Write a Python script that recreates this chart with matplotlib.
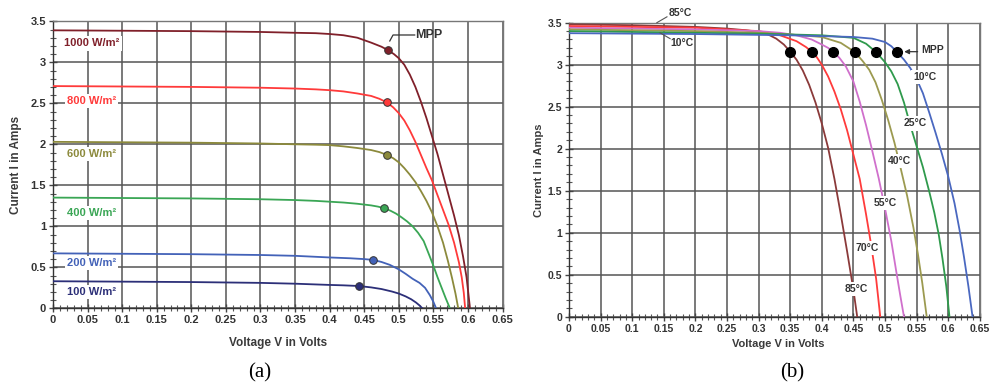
import matplotlib.pyplot as plt
from matplotlib.ticker import MultipleLocator, FuncFormatter

# ---- (a) I-V curves for different irradiance levels ----
irr_labels = ['1000 W/m²', '800 W/m²', '600 W/m²', '400 W/m²', '200 W/m²', '100 W/m²']
irr_colors = ['#80202a', '#ff3a3a', '#8c8a3c', '#3aa655', '#4362b8', '#2c2f78']

v_1000 = [0, 0.1, 0.2, 0.3, 0.35, 0.38, 0.4, 0.42, 0.44, 0.46, 0.475, 0.484, 0.493, 0.5, 0.508, 0.516,
          0.524, 0.532, 0.54, 0.548, 0.556, 0.564, 0.572, 0.58, 0.587, 0.593, 0.598, 0.603]
i_1000 = [3.39, 3.385, 3.38, 3.37, 3.36, 3.355, 3.345, 3.33, 3.30, 3.24, 3.19, 3.15, 3.10, 3.05, 2.97, 2.85,
          2.70, 2.52, 2.32, 2.10, 1.88, 1.63, 1.38, 1.13, 0.89, 0.63, 0.38, 0.0]
v_800 = [0, 0.1, 0.2, 0.3, 0.35, 0.38, 0.4, 0.42, 0.44, 0.46, 0.472, 0.483, 0.492, 0.5, 0.508, 0.516,
         0.524, 0.532, 0.54, 0.548, 0.556, 0.564, 0.572, 0.58, 0.587, 0.591, 0.594, 0.596]
i_800 = [2.71, 2.705, 2.70, 2.69, 2.68, 2.67, 2.66, 2.645, 2.62, 2.59, 2.555, 2.51, 2.45, 2.38, 2.29, 2.17,
         2.03, 1.87, 1.71, 1.56, 1.38, 1.20, 1.02, 0.80, 0.56, 0.38, 0.19, 0.0]
v_600 = [0, 0.1, 0.2, 0.3, 0.35, 0.38, 0.4, 0.42, 0.44, 0.46, 0.472, 0.483, 0.492, 0.5, 0.508, 0.516,
         0.524, 0.532, 0.54, 0.548, 0.556, 0.564, 0.571, 0.577, 0.582, 0.586]
i_600 = [2.03, 2.025, 2.02, 2.01, 2.0, 1.995, 1.99, 1.975, 1.955, 1.93, 1.905, 1.87, 1.83, 1.78, 1.71, 1.63,
         1.54, 1.43, 1.31, 1.17, 1.00, 0.80, 0.58, 0.37, 0.18, 0.0]
v_400 = [0, 0.1, 0.2, 0.3, 0.35, 0.38, 0.4, 0.42, 0.44, 0.46, 0.47, 0.479, 0.488, 0.496, 0.504, 0.512,
         0.52, 0.528, 0.536, 0.544, 0.55, 0.556, 0.562, 0.568, 0.574]
i_400 = [1.35, 1.345, 1.34, 1.33, 1.32, 1.31, 1.30, 1.29, 1.275, 1.255, 1.24, 1.22, 1.19, 1.155, 1.11, 1.06,
         1.00, 0.92, 0.82, 0.65, 0.52, 0.38, 0.25, 0.12, 0.0]
v_200 = [0, 0.1, 0.2, 0.3, 0.35, 0.4, 0.43, 0.45, 0.463, 0.475, 0.487, 0.5, 0.51, 0.52, 0.53, 0.538,
         0.545, 0.55, 0.554]
i_200 = [0.67, 0.665, 0.66, 0.65, 0.64, 0.62, 0.61, 0.60, 0.59, 0.565, 0.53, 0.475, 0.42, 0.36, 0.31, 0.25,
         0.16, 0.08, 0.0]
v_100 = [0, 0.1, 0.2, 0.3, 0.35, 0.4, 0.42, 0.442, 0.46, 0.475, 0.49, 0.5, 0.51, 0.518, 0.525, 0.53, 0.534]
i_100 = [0.33, 0.325, 0.32, 0.31, 0.30, 0.285, 0.28, 0.272, 0.255, 0.235, 0.205, 0.18, 0.145, 0.11, 0.07,
         0.035, 0.0]

mpp_v_a = [0.484, 0.483, 0.483, 0.479, 0.463, 0.442]
mpp_i_a = [3.15, 2.51, 1.87, 1.22, 0.59, 0.272]
lab_i_a = [3.23, 2.53, 1.88, 1.166, 0.549, 0.202]

# ---- (b) I-V curves for different temperatures ----
temp_labels = ['85°C', '70°C', '55°C', '40°C', '25°C', '10°C']
temp_colors = ['#8b3a3a', '#ff3b3b', '#d070cc', '#9c9a50', '#2f9a4c', '#4a68c0']

v_85 = [0, 0.1, 0.2, 0.25, 0.28, 0.3, 0.315, 0.328, 0.34, 0.35, 0.36, 0.37, 0.38, 0.39, 0.40, 0.41,
        0.42, 0.43, 0.44, 0.45, 0.456]
i_85 = [3.48, 3.47, 3.45, 3.43, 3.41, 3.39, 3.36, 3.31, 3.24, 3.155, 3.06, 2.93, 2.76, 2.55, 2.30, 2.01,
        1.64, 1.22, 0.78, 0.32, 0.0]
v_70 = [0, 0.1, 0.2, 0.25, 0.3, 0.334, 0.36, 0.375, 0.384, 0.392, 0.40, 0.41, 0.42, 0.43, 0.44, 0.45,
        0.46, 0.47, 0.478, 0.486, 0.4925]
i_70 = [3.46, 3.45, 3.44, 3.42, 3.40, 3.35, 3.28, 3.21, 3.155, 3.09, 3.0, 2.86, 2.68, 2.47, 2.22, 1.93,
        1.64, 1.22, 0.86, 0.45, 0.0]
v_55 = [0, 0.1, 0.2, 0.25, 0.3, 0.334, 0.36, 0.384, 0.40, 0.41, 0.418, 0.428, 0.438, 0.45, 0.46, 0.47,
        0.48, 0.49, 0.50, 0.51, 0.518, 0.524, 0.530]
i_55 = [3.44, 3.43, 3.42, 3.41, 3.40, 3.38, 3.35, 3.30, 3.24, 3.20, 3.155, 3.08, 2.98, 2.80, 2.56, 2.28,
        1.97, 1.65, 1.29, 0.90, 0.53, 0.26, 0.0]
v_40 = [0, 0.1, 0.2, 0.25, 0.3, 0.35, 0.4, 0.43, 0.4525, 0.465, 0.475, 0.485, 0.495, 0.505, 0.515,
        0.525, 0.535, 0.545, 0.552, 0.559, 0.566]
i_40 = [3.42, 3.41, 3.40, 3.39, 3.38, 3.36, 3.33, 3.26, 3.15, 3.04, 2.94, 2.79, 2.58, 2.34, 2.07,
        1.76, 1.44, 1.06, 0.75, 0.40, 0.0]
v_25 = [0, 0.1, 0.2, 0.25, 0.3, 0.35, 0.4, 0.45, 0.47, 0.486, 0.5, 0.51, 0.52, 0.53, 0.54, 0.55,
        0.56, 0.57, 0.578, 0.585, 0.591, 0.597, 0.602]
i_25 = [3.40, 3.39, 3.38, 3.375, 3.37, 3.36, 3.35, 3.32, 3.25, 3.15, 3.03, 2.92, 2.77, 2.55, 2.28, 2.03,
        1.78, 1.49, 1.24, 0.98, 0.69, 0.36, 0.0]
v_10 = [0, 0.1, 0.2, 0.3, 0.35, 0.4, 0.45, 0.48, 0.5, 0.51, 0.5185, 0.53, 0.54, 0.55, 0.56, 0.57,
        0.58, 0.59, 0.60, 0.61, 0.618, 0.625, 0.632, 0.6385]
i_10 = [3.375, 3.37, 3.365, 3.355, 3.35, 3.34, 3.33, 3.31, 3.27, 3.22, 3.155, 3.06, 2.96, 2.83, 2.66, 2.43,
        2.19, 1.94, 1.67, 1.35, 1.03, 0.71, 0.36, 0.0]

mpp_v_b = [0.350, 0.384, 0.418, 0.4525, 0.486, 0.5185]
mpp_i_b = [3.15, 3.15, 3.15, 3.15, 3.15, 3.15]
lab_v_b = [0.454, 0.4725, 0.50, 0.5236, 0.547, 0.563]
lab_i_b = [0.326, 0.814, 1.357, 1.853, 2.30, 2.853]

curves_a = [(v_1000, i_1000), (v_800, i_800), (v_600, i_600), (v_400, i_400), (v_200, i_200), (v_100, i_100)]
curves_b = [(v_85, i_85), (v_70, i_70), (v_55, i_55), (v_40, i_40), (v_25, i_25), (v_10, i_10)]

plt.rcParams['font.family'] = ['Liberation Sans', 'DejaVu Sans']

fig = plt.figure(figsize=(9.91, 3.87), dpi=100)
W, H = 991, 387
ax1 = fig.add_axes([53 / W, (H - 308.3) / H, 449.5 / W, 287 / H])
ax2 = fig.add_axes([569 / W, (H - 316.7) / H, 410.8 / W, 294 / H])


def fmt(x, pos):
    return '%g' % round(x, 2)


# common axis style for both panels
for ax, tsize in ((ax1, 8), (ax2, 7.5)):
    ax.set_xlim(0, 0.65)
    ax.set_ylim(0, 3.5)
    ax.xaxis.set_major_locator(MultipleLocator(0.05))
    ax.xaxis.set_minor_locator(MultipleLocator(0.01))
    ax.yaxis.set_major_locator(MultipleLocator(0.5))
    ax.yaxis.set_minor_locator(MultipleLocator(0.1))
    ax.xaxis.set_major_formatter(FuncFormatter(fmt))
    ax.yaxis.set_major_formatter(FuncFormatter(fmt))
    ax.grid(True, which='major', color='#555555', linewidth=1.1)
    ax.set_axisbelow(True)
    ax.tick_params(which='major', direction='inout', length=6, width=1, color='#444444',
                   labelsize=tsize, labelcolor='#333333', pad=2)
    ax.tick_params(which='minor', direction='inout', length=5, width=0.8, color='#555555')
    for lab in ax.get_xticklabels() + ax.get_yticklabels():
        lab.set_fontweight('bold')
    for sp in ax.spines.values():
        sp.set_color('#777777')
        sp.set_linewidth(1.0)
    ax.spines['left'].set_color('#333333')
    ax.spines['bottom'].set_color('#333333')

# panel (a)
for (v, i), c, lab, li in zip(curves_a, irr_colors, irr_labels, lab_i_a):
    ax1.plot(v, i, color=c, linewidth=1.3, zorder=3)
    ax1.text(0.056, li, lab, color=c, fontsize=8, fontweight='bold', ha='center', va='center',
             zorder=4, bbox=dict(facecolor='white', edgecolor='none', pad=1.5))
for mv, mi, c in zip(mpp_v_a, mpp_i_a, irr_colors):
    ax1.plot(mv, mi, 'o', color=c, markersize=5.5, markeredgecolor='#333333',
             markeredgewidth=0.7, zorder=5)
ax1.plot([0.523, 0.4917, 0.487], [3.333, 3.333, 3.26], color='#333333', linewidth=0.9,
         zorder=5, clip_on=False)
ax1.text(0.523, 3.333, 'MPP', fontsize=9, fontweight='bold', color='#333333',
         ha='left', va='center', zorder=6)

# panel (b)
for (v, i), c in zip(curves_b, temp_colors):
    ax2.plot(v, i, color=c, linewidth=1.3, zorder=3)
for lv, li, lab in zip(lab_v_b, lab_i_b, temp_labels):
    ax2.text(lv, li, lab, fontsize=7.5, fontweight='bold', color='#333333', ha='center',
             va='center', zorder=4, bbox=dict(facecolor='white', edgecolor='none', pad=1.5))
ax2.plot(mpp_v_b, mpp_i_b, 'o', color='black', markersize=7, zorder=5)
ax2.annotate('', xy=(0.526, 3.155), xytext=(0.556, 3.155),
             arrowprops=dict(arrowstyle='-|>', color='#333333', lw=0.9, mutation_scale=7), zorder=6)
ax2.text(0.557, 3.175, 'MPP', fontsize=7.5, fontweight='bold', color='#333333',
         ha='left', va='center', zorder=6)
# leader lines of the 85°C / 10°C band labels
ax2.plot([0.155, 0.139], [3.57, 3.50], color='#555555', linewidth=0.8, clip_on=False, zorder=6)
ax2.text(0.1756, 3.61, '85°C', fontsize=7.5, fontweight='bold', color='#333333',
         ha='center', va='center', clip_on=False)
ax2.plot([0.16, 0.144], [3.31, 3.38], color='#555555', linewidth=0.8, zorder=6)
ax2.text(0.178, 3.255, '10°C', fontsize=7.5, fontweight='bold', color='#333333',
         ha='center', va='center')

# axis titles
fig.text(16 / W, 1 - 165 / H, 'Current I in Amps', rotation=90, fontsize=8.5,
         fontweight='bold', color='#3a3a3a', ha='center', va='center')
fig.text(539 / W, 1 - 170 / H, 'Current I in Amps', rotation=90, fontsize=8,
         fontweight='bold', color='#3a3a3a', ha='center', va='center')
fig.text(278 / W, 1 - 342.7 / H, 'Voltage V in Volts', fontsize=8.5,
         fontweight='bold', color='#3a3a3a', ha='center', va='center')
fig.text(778 / W, 1 - 344 / H, 'Voltage V in Volts', fontsize=8,
         fontweight='bold', color='#3a3a3a', ha='center', va='center')

fig.text(260 / W, 1 - 373 / H, '(a)', fontsize=15, family='Liberation Serif',
         ha='center', va='center')
fig.text(792 / W, 1 - 373 / H, '(b)', fontsize=15, family='Liberation Serif',
         ha='center', va='center')

fig.savefig('out.png', dpi=100)
